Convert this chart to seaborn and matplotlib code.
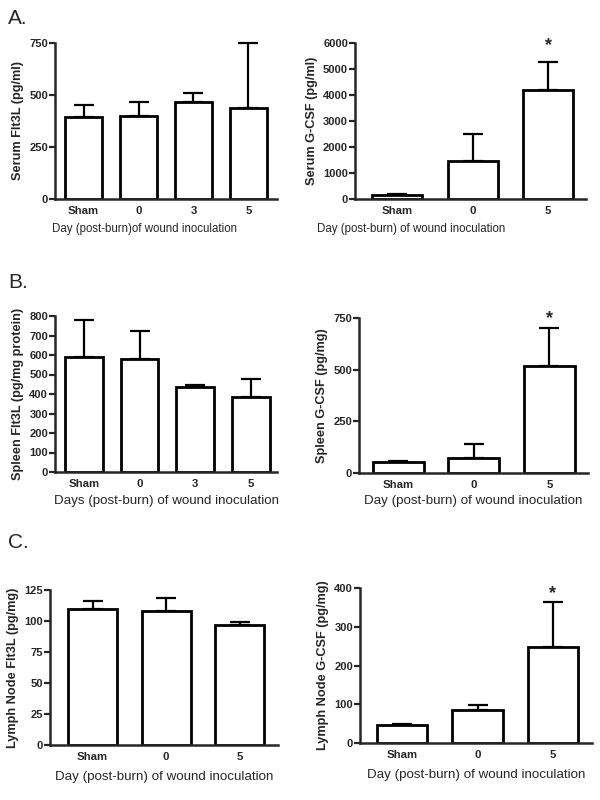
import matplotlib
matplotlib.use("Agg")
import matplotlib.pyplot as plt
import seaborn as sns
import pandas as pd

sns.set_theme(style="ticks")
plt.rcParams['font.family'] = ['Liberation Sans', 'DejaVu Sans']

# ---- data ----
cats4 = ["Sham", "0", "3", "5"]
cats3 = ["Sham", "0", "5"]

serum_flt3l = [393, 397, 465, 439]
serum_flt3l_err = [452, 468, 511, 749]

serum_gcsf = [170, 1450, 4190]
serum_gcsf_err = [200, 2500, 5280]

spleen_flt3l = [590, 577, 437, 385]
spleen_flt3l_err = [781, 723, 446, 477]

spleen_gcsf = [52, 72, 518]
spleen_gcsf_err = [57, 138, 700]

lymph_flt3l = [109.7, 108, 97]
lymph_flt3l_err = [116, 118.8, 99.4]

lymph_gcsf = [45.4, 86, 249]
lymph_gcsf_err = [49, 99, 363]

W, H = 600, 800
fig = plt.figure(figsize=(6, 8), dpi=100)

def px_axes(x0, x1, y0, y1):
    return fig.add_axes([x0 / W, 1 - y1 / H, (x1 - x0) / W, (y1 - y0) / H])

def panel(ax, cats, vals, errs, ylim, yticks, xlim, width, ylabel, xlabel,
          xlsize=9.6, xlpos=(0.5, -0.17), star=None):
    df = pd.DataFrame({"cat": cats, "val": vals})
    sns.barplot(data=df, x="cat", y="val", ax=ax, color="white", edgecolor="black",
                linewidth=2, width=width, errorbar=None, order=cats)
    xs = list(range(len(cats)))
    upper = [e - v for e, v in zip(errs, vals)]
    ax.errorbar(xs, vals, yerr=[[0] * len(vals), upper], fmt="none", ecolor="black",
                elinewidth=1.6, capsize=7.5, capthick=1.6, clip_on=False, zorder=1)
    ax.set_ylim(*ylim)
    ax.set_yticks(yticks)
    ax.set_xlim(*xlim)
    sns.despine(ax=ax)
    for s in ["left", "bottom"]:
        ax.spines[s].set_linewidth(1.8)
    ax.tick_params(axis="y", length=4, width=1.6, pad=1, labelsize=8)
    ax.tick_params(axis="x", length=0, pad=5, labelsize=8.2)
    for t in ax.get_xticklabels() + ax.get_yticklabels():
        t.set_fontweight("bold")
    ax.set_ylabel(ylabel, fontsize=9.2, fontweight="bold", labelpad=4)
    ax.set_xlabel(xlabel, fontsize=xlsize)
    ax.xaxis.set_label_coords(*xlpos)
    if star is not None:
        ax.text(star[0], star[1], "*", ha="center", va="center", fontsize=13,
                fontweight="bold", clip_on=False)
    for bar in ax.patches:
        bar.set_zorder(2)

xl_a = "Day (post-burn)of wound inoculation"
xl = "Day (post-burn) of wound inoculation"
xl_b = "Days (post-burn) of wound inoculation"

ax1 = px_axes(55, 277, 43, 199)
panel(ax1, cats4, serum_flt3l, serum_flt3l_err, (0, 750), [0, 250, 500, 750],
      (-0.52, 3.52), 0.67, "Serum Flt3L (pg/ml)", xl_a, xlsize=8.3,
      xlpos=(0.405, -0.155))

ax2 = px_axes(355, 586, 43, 199)
panel(ax2, cats3, serum_gcsf, serum_gcsf_err, (0, 6000), list(range(0, 6001, 1000)),
      (-0.556, 2.50), 0.66, "Serum G-CSF (pg/ml)", xl, xlsize=8.3,
      xlpos=(0.245, -0.155), star=(2, 5900))

ax3 = px_axes(55, 277, 316, 472)
panel(ax3, cats4, spleen_flt3l, spleen_flt3l_err, (0, 800), list(range(0, 801, 100)),
      (-0.52, 3.47), 0.68, "Spleen Flt3L (pg/mg protein)", xl_b,
      xlpos=(0.5, -0.145))

ax4 = px_axes(359, 588, 318, 473)
panel(ax4, cats3, spleen_gcsf, spleen_gcsf_err, (0, 750), [0, 250, 500, 750],
      (-0.52, 2.51), 0.675, "Spleen G-CSF (pg/mg)", xl, xlpos=(0.5, -0.145),
      star=(2, 745))

ax5 = px_axes(50, 278, 590, 745)
panel(ax5, cats3, lymph_flt3l, lymph_flt3l_err, (0, 125), [0, 25, 50, 75, 100, 125],
      (-0.58, 2.52), 0.67, "Lymph Node Flt3L (pg/mg)", xl)

ax6 = px_axes(360, 592, 588, 743)
panel(ax6, cats3, lymph_gcsf, lymph_gcsf_err, (0, 400), [0, 100, 200, 300, 400],
      (-0.56, 2.52), 0.67, "Lymph Node G-CSF (pg/mg)", xl, star=(2, 386))

fig.text(8 / W, 1 - 18 / H, "A.", fontsize=15, va="center", ha="left")
fig.text(8 / W, 1 - 282 / H, "B.", fontsize=15, va="center", ha="left")
fig.text(8 / W, 1 - 543 / H, "C.", fontsize=15, va="center", ha="left")

fig.savefig("out.png", dpi=100, facecolor="white")
